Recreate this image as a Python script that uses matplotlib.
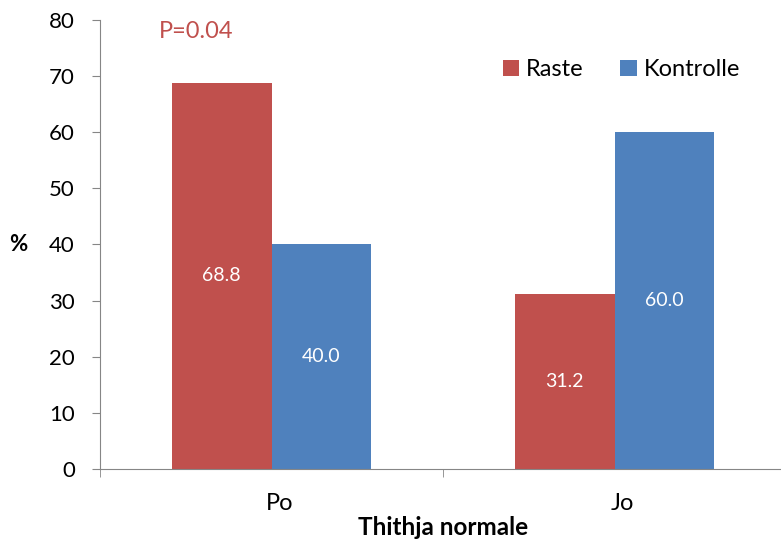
import numpy as np
import matplotlib.pyplot as plt
from matplotlib.transforms import ScaledTranslation

plt.rcParams['font.family'] = ['Lato', 'DejaVu Sans']

categories = ['Po', 'Jo']
raste = [68.8, 31.2]
kontrolle = [40.0, 60.0]

red = '#C0504D'
blue = '#4F81BD'
axis_gray = '#868686'

fig = plt.figure(figsize=(7.81, 5.46), dpi=100)
ax = fig.add_axes([100 / 781, 77 / 546, 686 / 781, 449 / 546])

x = np.arange(len(categories))
w = 0.29
b1 = ax.bar(x - w / 2, raste, w, color=red, label='Raste')
b2 = ax.bar(x + w / 2, kontrolle, w, color=blue, label='Kontrolle')

for bars in (b1, b2):
    for rect in bars:
        h = rect.get_height()
        ax.text(rect.get_x() + rect.get_width() / 2, h / 2, f'{h:.1f}',
                ha='center', va='center', color='white', fontsize=14)

ax.set_xlim(-0.5, 1.5)
ax.set_ylim(0, 80)
ax.set_yticks(range(0, 81, 10))
ax.set_xticks(x)
ax.set_xticklabels(categories)
ax.set_xticks([-0.5, 0.5, 1.5], minor=True)
ax.tick_params(axis='x', which='major', length=0, pad=17, labelsize=17)
ax.tick_params(axis='x', which='minor', length=6, color=axis_gray, direction='out')
ax.tick_params(axis='y', length=6, color=axis_gray, direction='out', labelsize=16, pad=12)

# shift category labels slightly right
for lbl in ax.get_xticklabels():
    lbl.set_transform(lbl.get_transform() + ScaledTranslation(8 / 100, 0, fig.dpi_scale_trans))

for side in ('top', 'right'):
    ax.spines[side].set_visible(False)
for side in ('left', 'bottom'):
    ax.spines[side].set_color(axis_gray)

ax.set_ylabel('%', rotation=0, fontweight='bold', fontsize=16, labelpad=22, va='center')
ax.set_xlabel('Thithja normale', fontweight='bold', fontsize=17.5, labelpad=2)

ax.text(-0.219, 77.9, 'P=0.04', color=red, fontsize=17, ha='center', va='center')

ax.legend(loc='upper left', bbox_to_anchor=(0.556, 0.96), ncol=2, frameon=False,
          fontsize=17, handlelength=0.7, handleheight=0.7, handletextpad=0.3,
          columnspacing=1.55)

fig.savefig('out.png', dpi=100)
